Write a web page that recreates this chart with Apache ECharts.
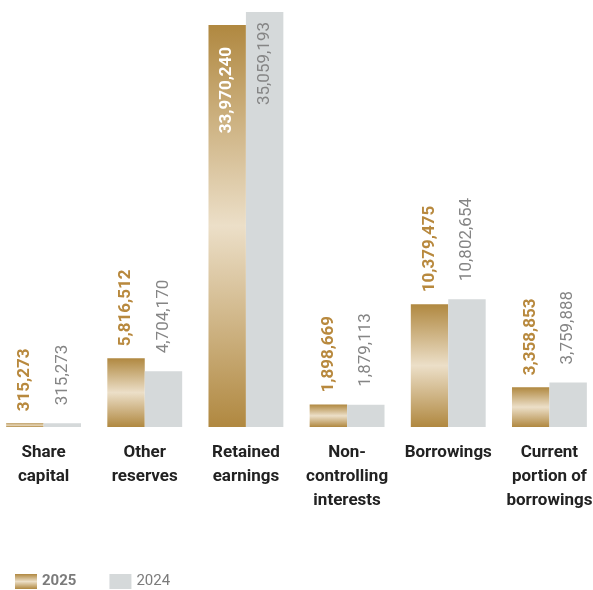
<!DOCTYPE html>
<html><head><meta charset="utf-8">
<script src="https://cdn.jsdelivr.net/npm/echarts@6/dist/echarts.min.js"></script>
<style>html,body{margin:0;padding:0;background:#fff;overflow:hidden;width:593px;height:590px;position:relative}#c{width:607px;height:590px;position:absolute;left:-7px;top:0}</style>
</head><body><div id="c"></div>
<script>
const categories = ['Share\ncapital','Other\nreserves','Retained\nearnings','Non-\ncontrolling\ninterests','Borrowings','Current\nportion of\nborrowings'];
const values2025 = [315273, 5816512, 33970240, 1898669, 10379475, 3358853];
const values2024 = [315273, 4704170, 35059193, 1879113, 10802654, 3759888];
const seriesNames = ['2025','2024'];

const FONT = 'Roboto, "Liberation Sans", sans-serif';
const gold = new echarts.graphic.LinearGradient(0,0,0,1,[
  {offset:0,color:'#b08840'},{offset:0.5,color:'#ecdfc8'},{offset:1,color:'#b08840'}]);
const fmt = v => v.toLocaleString('en-US');
const insideIdx = 2;

const chart = echarts.init(document.getElementById('c'));
chart.setOption({
  animation:false,
  grid:{left:0,right:0,top:12,bottom:163},
  legend:{left:22,bottom:1,padding:0,itemWidth:22,itemHeight:15,itemGap:33,icon:'rect',
    textStyle:{fontFamily:FONT,fontSize:15,color:'#7b7b7b'},
    data:[{name:'2025',textStyle:{fontWeight:'bold'}},{name:'2024'}]},
  xAxis:{type:'category',data:categories,axisLine:{show:false},axisTick:{show:false},
    axisLabel:{interval:0,fontFamily:FONT,fontSize:17,fontWeight:'bold',color:'#222',lineHeight:24,margin:14,verticalAlign:'top'}},
  yAxis:{type:'value',min:0,max:35059193,show:false,splitLine:{show:false}},
  series:[
    {name:seriesNames[0],type:'bar',barGap:'0%',barCategoryGap:'26%',
      itemStyle:{color:gold},
      data:values2025.map((v,i)=>({value:v,label: i===insideIdx ?
        {position:'insideTop',align:'right',verticalAlign:'middle',distance:22,color:'#fff'} : {}})),
      label:{show:true,position:'top',rotate:90,align:'left',verticalAlign:'middle',distance:12,
        fontFamily:FONT,fontSize:17,fontWeight:'bold',color:'#b8893e',formatter:p=>fmt(p.value)}},
    {name:seriesNames[1],type:'bar',
      itemStyle:{color:'#d5d9da'},
      data:values2024.map((v,i)=>({value:v,label: i===insideIdx ?
        {position:'insideTop',align:'right',verticalAlign:'middle',distance:10} : {}})),
      label:{show:true,position:'top',rotate:90,align:'left',verticalAlign:'middle',distance:18,
        fontFamily:FONT,fontSize:17,color:'#858585',formatter:p=>fmt(p.value)}}
  ]
});
</script></body></html>
